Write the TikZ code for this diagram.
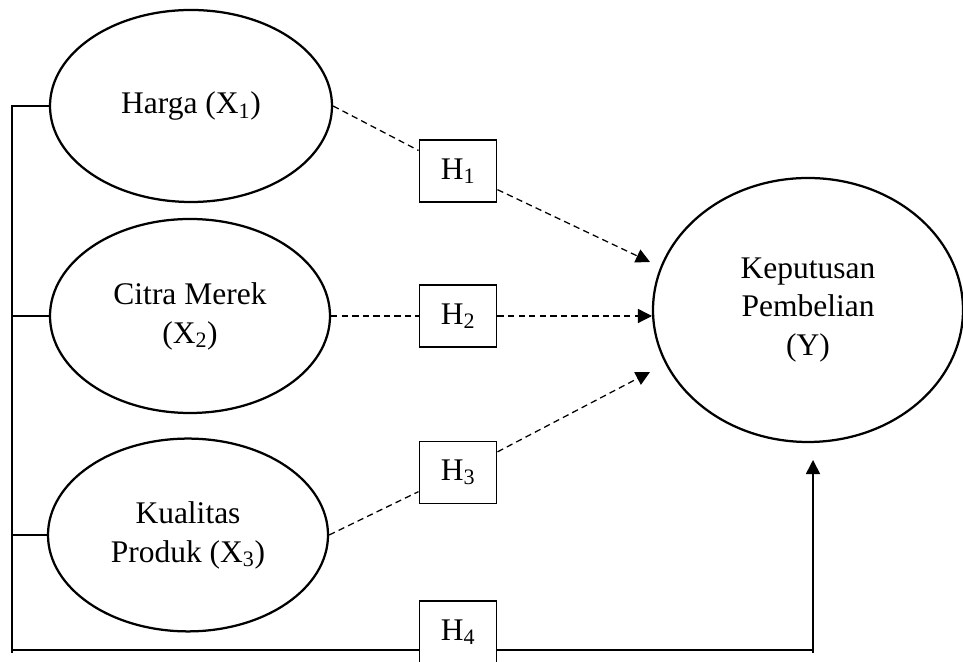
\documentclass[tikz,border=0pt]{standalone}
\usepackage{fontspec}
\setmainfont{Liberation Serif}
\usetikzlibrary{shapes.geometric,arrows.meta,positioning}

\begin{document}
\begin{tikzpicture}[
  var/.style={draw,ellipse,line width=1.6pt,inner sep=0pt,align=center,
              font=\fontsize{22.4}{27.7}\selectfont},
  hyp/.style={draw,line width=1.4pt,minimum width=1.925cm,
              minimum height=1.55cm,inner sep=0pt,
              font=\fontsize{22.4}{27.7}\selectfont},
  dsh/.style={line width=0.9pt,dash pattern=on 4.5pt off 3pt},
  arr/.style={-{Triangle[length=10pt,width=10pt]}},
  ln/.style={line width=1.1pt}
]
\useasboundingbox (0,0) rectangle (24.075,16.55);

% variabel
\node[var,minimum width=7.05cm,minimum height=4.8cm] (x1) at (4.775,13.9)
  {Harga (X\textsubscript{1})};
\node[var,minimum width=7.0cm,minimum height=4.85cm] (x2) at (4.75,8.65)
  {Citra Merek\\(X\textsubscript{2})};
\node[var,minimum width=7.0cm,minimum height=4.82cm] (x3) at (4.7,3.175)
  {Kualitas\\Produk (X\textsubscript{3})};
\node[var,minimum width=7.75cm,minimum height=6.6cm] (y) at (20.2,8.8)
  {Keputusan\\Pembelian\\(Y)};

% hipotesis
\node[hyp] (h1) at (11.45,12.275) {H\textsubscript{1}};
\node[hyp] (h2) at (11.45,8.65) {H\textsubscript{2}};
\node[hyp] (h3) at (11.45,4.7375) {H\textsubscript{3}};
\node[hyp] (h4) at (11.45,0.75) {H\textsubscript{4}};

\coordinate (t1) at (16.25,10.0);
\coordinate (t2) at (16.3,8.65);
\coordinate (t3) at (16.25,7.25);
\coordinate (t4) at (20.325,5.05);
\coordinate (lft) at (0.3,0.225);
\coordinate (rgt) at (20.325,0.225);
\coordinate (bl) at (0.3,0.3);

% garis putus-putus
\draw[dsh] (x1.east) -- (h1);
\draw[dsh,arr] (h1) -- (t1);
\draw[dsh] (x2.east) -- (h2);
\draw[dsh,arr] (h2) -- (t2);
\draw[dsh] (x3.east) -- (h3);
\draw[dsh,arr] (h3) -- (t3);

% simultan
\draw[ln] (x1.west) -| (lft);
\draw[ln] (x2.west) -- (x2.west -| lft);
\draw[ln] (x3.west) -- (x3.west -| lft);
\draw[ln] (bl) -- (bl -| h4.west);
\draw[ln] (bl -| h4.east) -- (bl -| rgt);
\draw[ln,arr] (rgt) -- (t4);
\end{tikzpicture}
\end{document}
